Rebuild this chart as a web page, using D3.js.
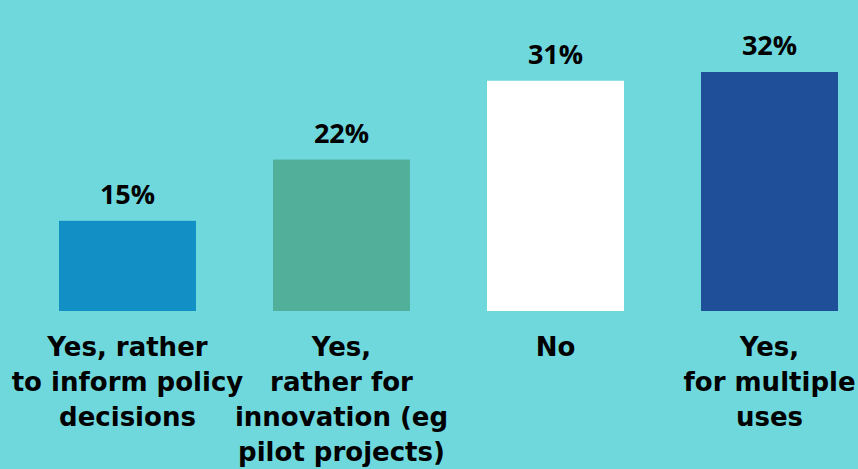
<!DOCTYPE html>
<html>
<head>
<meta charset="utf-8">
<script src="https://cdn.jsdelivr.net/npm/d3@7"></script>
<style>
    html, body { margin: 0; padding: 0; background: #6fd8dd; }
    svg { display: block; }
    text { font-weight: 700; fill: #000; }
    .value { font-family: 'Open Sans', sans-serif; }
    .cat { font-family: 'DejaVu Sans', sans-serif; }
</style>
</head>
<body>
<svg width="858" height="469"></svg>
<script>
// categories, one entry per line of the label under each bar
const categories = [
    'Yes, rather\nto inform policy\ndecisions',
    'Yes,\nrather for\ninnovation (eg\npilot projects)',
    'No',
    'Yes,\nfor multiple\nuses'
];
const shares = [15, 22, 31, 32];
const barColours = ['#128fc4', '#52b09a', '#ffffff', '#1f4f98'];

const svg = d3.select('svg');
const baseline = 311;

const x = d3.scaleBand()
    .domain(categories)
    .range([59, 838])
    .paddingInner(0.36)
    .paddingOuter(0);

// the original bars do not start at zero, this fits them best
const y = d3.scaleLinear()
    .domain([4.7, 32])
    .range([baseline, 72]);

const colour = d3.scaleOrdinal().domain(categories).range(barColours);

const data = categories.map((c, i) => ({ cat: c, value: shares[i] }));

svg.selectAll('rect.bar')
    .data(data)
    .enter().append('rect')
    .attr('class', 'bar')
    .attr('x', d => x(d.cat))
    .attr('width', x.bandwidth())
    .attr('y', d => y(d.value))
    .attr('height', d => baseline - y(d.value))
    .style('fill', d => colour(d.cat));

svg.selectAll('text.value')
    .data(data)
    .enter().append('text')
    .attr('class', 'value')
    .attr('x', d => x(d.cat) + x.bandwidth() / 2)
    .attr('y', d => y(d.value) - 17)
    .attr('text-anchor', 'middle')
    .style('font-size', '27px')
    .text(d => `${d.value}%`);

const labels = svg.selectAll('text.cat')
    .data(data)
    .enter().append('text')
    .attr('class', 'cat')
    .attr('text-anchor', 'middle')
    .style('font-size', '26px');

labels.selectAll('tspan')
    .data(d => d.cat.split('\n').map(line => ({ line, cx: x(d.cat) + x.bandwidth() / 2 })))
    .enter().append('tspan')
    .attr('x', d => d.cx)
    .attr('y', (d, i) => 356 + i * 35)
    .text(d => d.line);
</script>
</body>
</html>
